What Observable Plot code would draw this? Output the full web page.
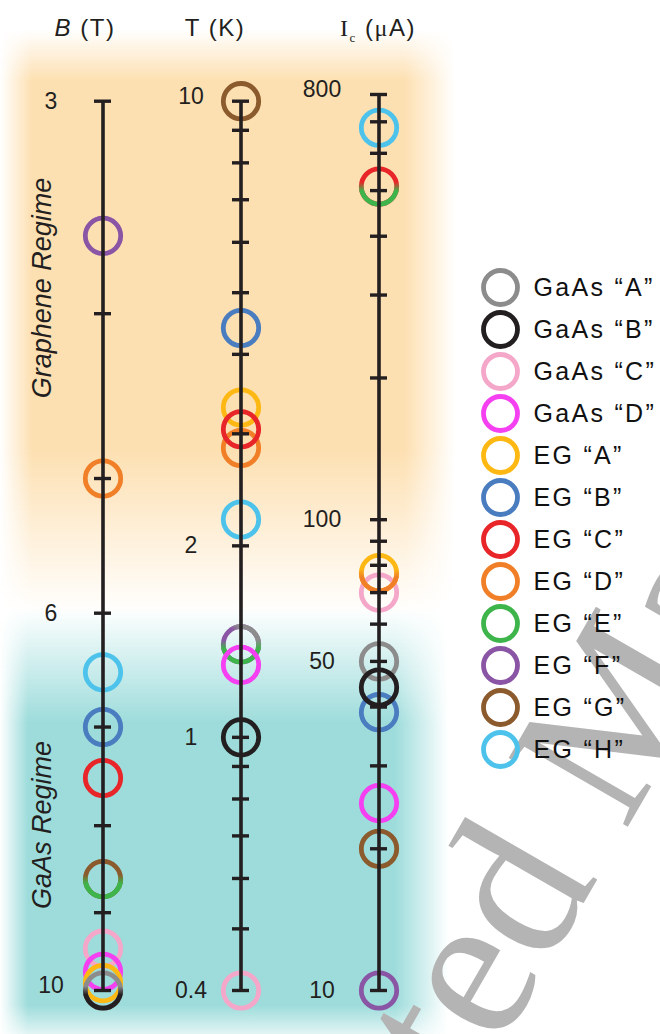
<!DOCTYPE html>
<html><head><meta charset="utf-8">
<script src="https://cdn.jsdelivr.net/npm/d3@7"></script>
<script src="https://cdn.jsdelivr.net/npm/@observablehq/plot@0.6"></script>
<style>
html,body{margin:0;padding:0;background:#fff;}
#root{position:relative;width:660px;height:1034px;overflow:hidden;font-family:"Liberation Sans",Arial,sans-serif;color:#231f20;}
.layer{position:absolute;left:0;top:0;}
.bg{position:absolute;}
.hdr{position:absolute;top:14px;font-size:24px;line-height:28px;white-space:nowrap;transform:translateX(-50%);letter-spacing:1.5px;}
.serif{font-family:"Liberation Serif","Times New Roman",serif;}
.regime{position:absolute;font-size:27px;font-style:italic;white-space:nowrap;transform:translate(-50%,-50%) rotate(-90deg);}
</style></head>
<body><div id="root"></div>
<script>
// ---------------- data ----------------
const samples = ["GaAs “A”","GaAs “B”","GaAs “C”","GaAs “D”","EG “A”","EG “B”","EG “C”","EG “D”","EG “E”","EG “F”","EG “G”","EG “H”"];
const sampleColors = ["#8c8c8c","#231f20","#f4a7c9","#f440f0","#fdb813","#4a7cc0","#e8262a","#f07f27","#3db54a","#8a55a4","#8b5a2d","#4dc3ec"];
const axisNames = ["B (T)","T (K)","Ic (μA)"];

// [sample, value] listed in drawing order
const fieldB = [["EG “F”",3.6],["EG “D”",5],["EG “H”",6.5],["EG “B”",7],["EG “C”",7.5],["EG “G”",8.6],["EG “E”",8.6],["GaAs “C”",9.45],["GaAs “D”",9.75],["EG “A”",9.9],["GaAs “A”",10],["GaAs “B”",10]];
const tempT = [["EG “G”",10],["EG “B”",4.4],["EG “A”",3.3],["EG “D”",2.85],["EG “C”",3.05],["EG “H”",2.2],["EG “F”",1.4],["GaAs “A”",1.4],["EG “E”",1.4],["GaAs “D”",1.3],["GaAs “B”",1],["GaAs “C”",0.4]];
const currentIc = [["EG “H”",680],["EG “C”",510],["EG “E”",510],["GaAs “C”",70],["EG “A”",77],["EG “D”",77],["GaAs “A”",50],["EG “B”",39],["GaAs “B”",44],["GaAs “D”",25],["EG “G”",20],["EG “F”",10]];

const ticksB = [3,4,5,6,7,8,9,10];
const ticksT = [0.4,0.5,0.6,0.7,0.8,0.9,1,2,3,4,5,6,7,8,9,10];
const ticksIc = [10,20,30,40,50,60,70,80,90,100,200,300,400,500,600,700,800];
const labelsB = [3,6,10];
const labelsT = [10,2,1,0.4];
const labelsIc = [800,100,50,10];

// ---------------- layout ----------------
const root = document.getElementById("root");
const INK = "#231f20";

// background
root.insertAdjacentHTML("beforeend", `
<div class="bg" style="left:0;top:30px;width:460px;height:620px;
 background:linear-gradient(to bottom, rgba(253,226,182,0) 0px, #fde0b2 50px, #fde0b2 420px, rgba(253,226,182,0) 585px);
 -webkit-mask-image:linear-gradient(to right, transparent 0px, #000 32px, #000 405px, transparent 455px);
 mask-image:linear-gradient(to right, transparent 0px, #000 32px, #000 405px, transparent 455px);"></div>
<div class="bg" style="left:0;top:608px;width:460px;height:426px;
 background:linear-gradient(to bottom, rgba(157,220,219,0) 0px, #9ddcdb 115px, #9ddcdb 397px, rgba(157,220,219,0.3) 426px);
 -webkit-mask-image:linear-gradient(to right, transparent 0px, #000 28px, #000 395px, transparent 448px);
 mask-image:linear-gradient(to right, transparent 0px, #000 28px, #000 395px, transparent 448px);"></div>
`);

// watermark
root.insertAdjacentHTML("beforeend", `
<svg class="layer" width="660" height="1034"><text x="202" y="1564" transform="rotate(-60 202 1564)"
 font-family="Liberation Serif, Times New Roman, serif" font-size="210" fill="#b4b4b4">Accepted Manuscript</text></svg>`);

// headers + regime labels
root.insertAdjacentHTML("beforeend", `
<div class="hdr" style="left:85px"><i>B</i> (T)</div>
<div class="hdr" style="left:215px">T (K)</div>
<div class="hdr" style="left:378px"><span class="serif">I<sub style="font-size:13px">c</sub></span> (<span class="serif">μ</span>A)</div>
<div class="regime" style="left:42px;top:288px">Graphene Regime</div>
<div class="regime" style="left:42px;top:825px">GaAs Regime</div>
`);

// gradient defs for coincident rings
const defsSvg = d3.select(root).append("svg").attr("width",0).attr("height",0).style("position","absolute");
const defs = defsSvg.append("defs");
const made = new Set();
function grad(type, color) {
  const id = `g-${type}-${color.slice(1)}`;
  if (!made.has(id)) {
    made.add(id);
    const g = defs.append("linearGradient").attr("id", id);
    let stops;
    if (type === "bottom") { g.attr("x1",0).attr("y1",0).attr("x2",0).attr("y2",1); stops = [[0.38,0],[0.62,1]]; }
    else { g.attr("x1",1).attr("y1",0).attr("x2",0).attr("y2",1); stops = [[0.28,1],[0.42,0]]; }
    for (const [o, op] of stops) g.append("stop").attr("offset", o).attr("stop-color", color).attr("stop-opacity", op);
  }
  return `url(#${id})`;
}
function buildPoints(entries) {
  const groups = d3.group(entries, d => d[1]);
  return entries.map(([s, v]) => {
    const g = groups.get(v), k = g.findIndex(d => d[0] === s), n = g.length;
    const c = sampleColors[samples.indexOf(s)];
    const stroke = k === 0 ? c : grad(n === 3 && k === 1 ? "tr" : "bottom", c);
    return {sample: s, value: v, stroke};
  });
}

function axisPlot(name, entries, domain, range, ticks, labels, labelDx) {
  const pts = buildPoints(entries);
  const top = d3.max(domain);
  const txt = {x: () => name, y: d => d, text: d => String(d), dx: labelDx, fontSize: 23, fill: INK, textAnchor: "middle"};
  return Plot.plot({
    width: 660, height: 1034, margin: 0,
    x: {type: "band", domain: axisNames, range: [32.55, 447.45], paddingInner: 0.877, paddingOuter: 0.4385, align: 0.5, axis: null},
    y: {type: "log", domain, range, axis: null},
    color: {type: "identity"},
    style: {background: "transparent", overflow: "visible", fontFamily: "Liberation Sans, Arial, sans-serif"},
    marks: [
      Plot.dot(pts, {x: () => name, y: "value", r: 17.7, stroke: "stroke", strokeWidth: 4.8, fill: "none"}),
      Plot.ruleX([name], {x: d => d, y1: domain[0], y2: domain[1], stroke: INK, strokeWidth: 3.6}),
      Plot.tickY(ticks, {x: () => name, y: d => d, stroke: INK, strokeWidth: 3.4}),
      Plot.text(labels.filter(d => d !== top), txt),
      Plot.text([top], {...txt, dy: -5})
    ]
  });
}

const plots = [
  axisPlot("B (T)", fieldB, [3, 10], [100.7, 990], ticksB, labelsB, -52),
  axisPlot("T (K)", tempT, [0.4, 10], [990, 100.7], ticksT, labelsT, -50),
  axisPlot("Ic (μA)", currentIc, [10, 800], [990, 94], ticksIc, labelsIc, -57)
];
for (const p of plots) { p.classList.add("layer"); p.style.position = "absolute"; root.appendChild(p); }

// legend
const legend = Plot.plot({
  width: 660, height: 1034, marginLeft: 400, marginRight: 60, marginTop: 0, marginBottom: 0,
  y: {type: "point", domain: samples, range: [262, 773], axis: null},
  color: {type: "identity"},
  style: {background: "transparent", overflow: "visible", fontFamily: "Liberation Sans, Arial, sans-serif", letterSpacing: "2.3px"},
  marks: [
    Plot.dot(samples, {y: d => d, r: 17, stroke: (d, i) => sampleColors[i], strokeWidth: 4.8, fill: "none"}),
    Plot.text(samples, {y: d => d, text: d => d, frameAnchor: "left", dx: 133, textAnchor: "start", fontSize: 25, fill: "#111"})
  ]
});
legend.style.position = "absolute"; legend.style.left = "0"; legend.style.top = "0";
root.appendChild(legend);
</script></body></html>
